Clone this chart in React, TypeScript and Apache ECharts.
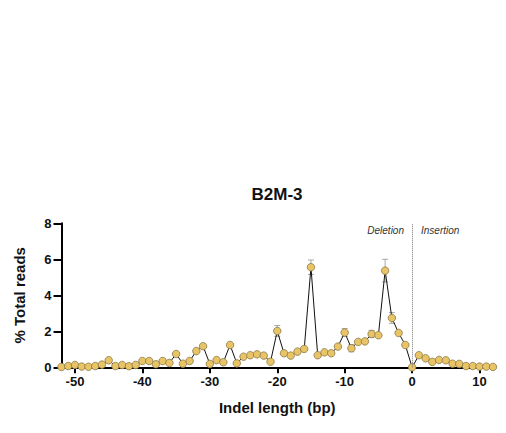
import React, { useEffect, useRef } from "react";
import * as echarts from "echarts";

const indelLengths: number[] = [];
for (let i = -52; i <= 12; i++) indelLengths.push(i);

const totalReads = [
  0.02, 0.07, 0.13, 0.04, 0.03, 0.07, 0.15, 0.39, 0.07, 0.13,
  0.06, 0.13, 0.35, 0.35, 0.17, 0.35, 0.24, 0.74, 0.2, 0.35,
  0.9, 1.17, 0.19, 0.4, 0.28, 1.24, 0.22, 0.59, 0.67, 0.72,
  0.65, 0.31, 2.02, 0.78, 0.65, 0.87, 1.02, 5.56, 0.67, 0.83,
  0.78, 1.15, 1.93, 1.06, 1.41, 1.44, 1.85, 1.78, 5.37, 2.74,
  1.91, 1.24, 0.0, 0.67, 0.5, 0.3, 0.41, 0.39, 0.2, 0.19,
  0.07, 0.07, 0.04, 0.04, 0.02,
];

const errors = [
  0, 0, 0, 0, 0, 0, 0, 0.05, 0, 0,
  0, 0, 0.05, 0.05, 0, 0.05, 0, 0.06, 0, 0,
  0.06, 0.06, 0, 0, 0, 0.08, 0, 0, 0, 0,
  0, 0, 0.3, 0, 0, 0, 0.05, 0.4, 0, 0,
  0, 0.05, 0.22, 0.2, 0.06, 0.08, 0.2, 0.05, 0.63, 0.3,
  0.1, 0.06, 0, 0.05, 0, 0, 0, 0, 0, 0,
  0, 0, 0, 0, 0,
];

const xTickValues = [-50, -40, -30, -20, -10, 0, 10];

const FONT = "Liberation Sans, Arial, sans-serif";

export default function App() {
  const ref = useRef<HTMLDivElement>(null);
  useEffect(() => {
    if (!ref.current) return;
    const chart = echarts.init(ref.current, null, { renderer: "svg" });
    const lineData = indelLengths.map((x, i) => [x, totalReads[i]]);
    const errData = indelLengths
      .map((x, i) => [x, totalReads[i] - errors[i], totalReads[i] + errors[i], errors[i]])
      .filter((d) => d[3] > 0);
    chart.setOption({
      animation: false,
      grid: { left: 61.5, right: 13, top: 223.3, bottom: 65.7 },
      graphic: [
        {
          type: "text",
          x: 277,
          y: 194,
          style: {
            text: "B2M-3",
            font: `bold 17px ${FONT}`,
            fill: "#111",
            textAlign: "center",
            textVerticalAlign: "middle",
          },
        },
        {
          type: "text",
          x: 404,
          y: 230,
          style: {
            text: "Deletion",
            font: `italic 10px ${FONT}`,
            fill: "#333",
            textAlign: "right",
            textVerticalAlign: "middle",
          },
        },
        {
          type: "text",
          x: 421,
          y: 230,
          style: {
            text: "Insertion",
            font: `italic 10px ${FONT}`,
            fill: "#333",
            textAlign: "left",
            textVerticalAlign: "middle",
          },
        },
      ],
      xAxis: {
        type: "value",
        min: -52,
        max: 12,
        name: "Indel length (bp)",
        nameLocation: "middle",
        nameGap: 33,
        nameTextStyle: { fontFamily: FONT, fontWeight: "bold", fontSize: 15, color: "#111" },
        axisLine: { show: true, onZero: false, lineStyle: { color: "#000", width: 2 } },
        axisTick: { show: true, length: 6, lineStyle: { color: "#000", width: 2 }, customValues: xTickValues },
        axisLabel: {
          customValues: xTickValues,
          fontFamily: FONT,
          fontWeight: "bold",
          fontSize: 13,
          color: "#111",
          margin: 8,
        },
        splitLine: { show: false },
      },
      yAxis: {
        type: "value",
        min: 0,
        max: 8,
        interval: 2,
        name: "% Total reads",
        nameLocation: "middle",
        nameGap: 35,
        nameTextStyle: { fontFamily: FONT, fontWeight: "bold", fontSize: 15, color: "#111" },
        axisLine: { show: true, onZero: false, lineStyle: { color: "#000", width: 2 } },
        axisTick: { show: true, length: 8, lineStyle: { color: "#000", width: 2 } },
        axisLabel: {
          fontFamily: FONT,
          fontWeight: "bold",
          fontSize: 13,
          color: "#111",
          margin: 10,
        },
        splitLine: { show: false },
      },
      series: [
        {
          type: "custom",
          data: errData,
          z: 1,
          renderItem: (params: any, api: any) => {
            const x = api.coord([api.value(0), 0])[0];
            const lo = api.coord([0, api.value(1)])[1];
            const hi = api.coord([0, api.value(2)])[1];
            const style = { stroke: "#a8a8a8", lineWidth: 1 };
            return {
              type: "group",
              children: [
                { type: "line", shape: { x1: x, y1: lo, x2: x, y2: hi }, style },
                { type: "line", shape: { x1: x - 3, y1: hi, x2: x + 3, y2: hi }, style },
                { type: "line", shape: { x1: x - 3, y1: lo, x2: x + 3, y2: lo }, style },
              ],
            };
          },
        },
        {
          type: "line",
          data: lineData,
          z: 3,
          symbol: "circle",
          symbolSize: 7.5,
          lineStyle: { color: "#111", width: 1 },
          itemStyle: { color: "#E8C466", borderColor: "#8c7a4a", borderWidth: 0.8 },
          markLine: {
            silent: true,
            symbol: ["none", "none"],
            label: { show: false },
            lineStyle: { color: "#777", type: "dotted", width: 1 },
            data: [{ xAxis: 0 }],
          },
        },
      ],
    });
    return () => chart.dispose();
  }, []);
  return (
    <div
      ref={ref}
      style={{ position: "fixed", left: 0, top: 0, width: 506, height: 433, background: "#fff" }}
    />
  );
}
